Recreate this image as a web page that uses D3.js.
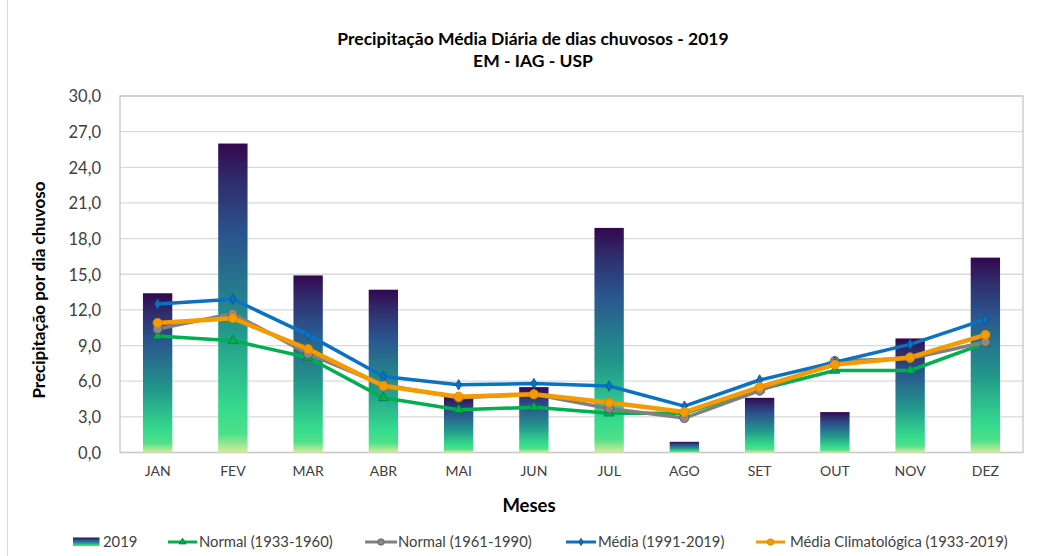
<!DOCTYPE html>
<html><head><meta charset="utf-8">
<script src="https://cdn.jsdelivr.net/npm/d3@7"></script>
<style>body{margin:0;background:#fff}svg{display:block;font-family:Lato,"Open Sans",sans-serif}</style>
</head><body><svg id="c" width="1039" height="556"></svg>
<script>
const months = ["JAN","FEV","MAR","ABR","MAI","JUN","JUL","AGO","SET","OUT","NOV","DEZ"];
const yTicks = [0,3,6,9,12,15,18,21,24,27,30];
const bars2019 = [13.4,26.0,14.9,13.7,4.7,5.5,18.9,0.9,4.6,3.4,9.6,16.4];
const normal1933 = [9.8,9.4,8.0,4.6,3.6,3.8,3.3,3.3,5.3,6.9,6.9,9.2];
const normal1961 = [10.4,11.7,8.3,5.7,4.6,4.9,3.7,2.9,5.2,7.7,7.9,9.3];
const media1991 = [12.5,12.9,9.9,6.4,5.7,5.8,5.6,3.9,6.1,7.6,9.1,11.2];
const mediaClim = [10.9,11.3,8.7,5.6,4.7,4.9,4.2,3.4,5.5,7.4,8.0,9.9];

const svg = d3.select("#c");
const L=120, R=1023, T=96, B=452.5;
const x = d3.scaleBand().domain(months).range([L,R]).paddingInner(0.61).paddingOuter(0.305);
const y = d3.scaleLinear().domain([0,30]).range([B,T]);
const fmt = d => d3.format(".1f")(d).replace(".",",");

// outer border
svg.append("rect").attr("x",7.5).attr("y",-2).attr("width",1040).attr("height",560).attr("fill","none").attr("stroke","#d9d9d9");

// gradient
const defs = svg.append("defs");
const g = defs.append("linearGradient").attr("id","vir").attr("x1",0).attr("y1",1).attr("x2",0).attr("y2",0);
[[0,"#d4eb9a"],[0.06,"#4ee08a"],[0.14,"#35db8d"],[0.4,"#22968b"],[0.7,"#2a558f"],[0.88,"#2f2c6b"],[1,"#33074f"]]
 .forEach(([o,c])=>g.append("stop").attr("offset",o).attr("stop-color",c));

// gridlines
svg.append("g").selectAll("line").data(yTicks).join("line")
 .attr("x1",L).attr("x2",R).attr("y1",d=>y(d)).attr("y2",d=>y(d))
 .attr("stroke","#d9d9d9").attr("stroke-width",1.3);
svg.append("rect").attr("x",L).attr("y",T).attr("width",R-L).attr("height",B-T)
 .attr("fill","none").attr("stroke","#c8c8c8").attr("stroke-width",1.3);

// y axis
const ya = svg.append("g").attr("transform",`translate(${L-16},0)`)
 .call(d3.axisLeft(y).tickValues(yTicks).tickFormat(fmt).tickSize(0));
ya.select(".domain").remove();
ya.selectAll("text").attr("font-size",16.5).attr("fill","#404040").attr("font-family","Lato").attr("dy","0.35em");

// x axis
const xa = svg.append("g").attr("transform",`translate(0,${B+11})`)
 .call(d3.axisBottom(x).tickSize(0));
xa.select(".domain").remove();
xa.selectAll("text").attr("font-size",14).attr("fill","#404040").attr("font-family","Lato");

// bars
svg.append("g").selectAll("rect").data(bars2019).join("rect")
 .attr("x",(d,i)=>x(months[i])).attr("width",x.bandwidth())
 .attr("y",d=>y(d)).attr("height",d=>B-y(d)).attr("fill","url(#vir)");

// lines
const series = [
 {name:"Normal (1933-1960)", data:normal1933, color:"#00b050", w:3.5, m:"tri", mc:"#00b050", ms:"#007a3a"},
 {name:"Normal (1961-1990)", data:normal1961, color:"#808080", w:3.5, m:"circ", mc:"#8a8a8a", ms:"#555"},
 {name:"Média (1991-2019)", data:media1991, color:"#0a72c4", w:3.5, m:"dia", mc:"#0a72c4", ms:"#06508a"},
 {name:"Média Climatológica (1933-2019)", data:mediaClim, color:"#f59a00", w:4.5, m:"circ", mc:"#f59a00", ms:"#d98500"}
];
const line = d3.line().x((d,i)=>x(months[i])+x.bandwidth()/2).y(d=>y(d));
function marker(sel, type, fill, stroke, k){
  k = k||1;
  if(type==="tri") sel.append("path").attr("d",d3.symbol(d3.symbolTriangle,40*k*k)()).attr("fill",fill).attr("stroke",stroke).attr("stroke-width",0.8);
  else if(type==="circ") sel.append("circle").attr("r",4.6*k).attr("fill",fill).attr("stroke",stroke).attr("stroke-width",0.8);
  else sel.append("path").attr("d",d3.symbol(d3.symbolDiamond,32*k*k)()).attr("fill",fill).attr("stroke",stroke).attr("stroke-width",0.8);
}
series.forEach(s=>{
  svg.append("path").datum(s.data).attr("d",line).attr("fill","none").attr("stroke",s.color).attr("stroke-width",s.w).attr("stroke-linejoin","round");
  s.data.forEach((d,i)=>{
    const gg = svg.append("g").attr("transform",`translate(${x(months[i])+x.bandwidth()/2},${y(d)})`);
    marker(gg,s.m,s.mc,s.ms);
  });
});

// titles
svg.append("text").attr("x",533).attr("y",45).attr("text-anchor","middle").attr("font-weight","bold").attr("font-size",17.5).attr("fill","#000").text("Precipitação Média Diária de dias chuvosos - 2019");
svg.append("text").attr("x",533).attr("y",67).attr("text-anchor","middle").attr("font-weight","bold").attr("font-size",17.5).attr("fill","#000").text("EM - IAG - USP");
svg.append("text").attr("transform","translate(45,290) rotate(-90)").attr("text-anchor","middle").attr("font-weight","bold").attr("font-size",17).attr("fill","#000").text("Precipitação por dia chuvoso");
svg.append("text").attr("x",529).attr("y",512).attr("text-anchor","middle").attr("font-weight","bold").attr("font-size",18.5).attr("fill","#000").text("Meses");

// legend
const ly = 542;
const lg = svg.append("g");
lg.append("rect").attr("x",73).attr("y",ly-4.5).attr("width",26.5).attr("height",9).attr("fill","url(#vir)");
lg.append("text").attr("x",103).attr("y",ly).attr("dy","0.35em").attr("font-size",14.8).attr("fill","#404040").text("2019");
const lpos = [[168,197,199],[365,397,398],[566,596,598],[756,785,790]];
series.forEach((s,i)=>{
  const [x0,x1,tx]=lpos[i];
  lg.append("line").attr("x1",x0).attr("x2",x1).attr("y1",ly).attr("y2",ly).attr("stroke",s.color).attr("stroke-width",3);
  const gg = lg.append("g").attr("transform",`translate(${(x0+x1)/2},${ly})`);
  marker(gg,s.m,s.mc,s.ms,0.7);
  lg.append("text").attr("x",tx).attr("y",ly).attr("dy","0.35em").attr("font-size",14.8).attr("fill","#404040").text(s.name);
});
</script></body></html>
